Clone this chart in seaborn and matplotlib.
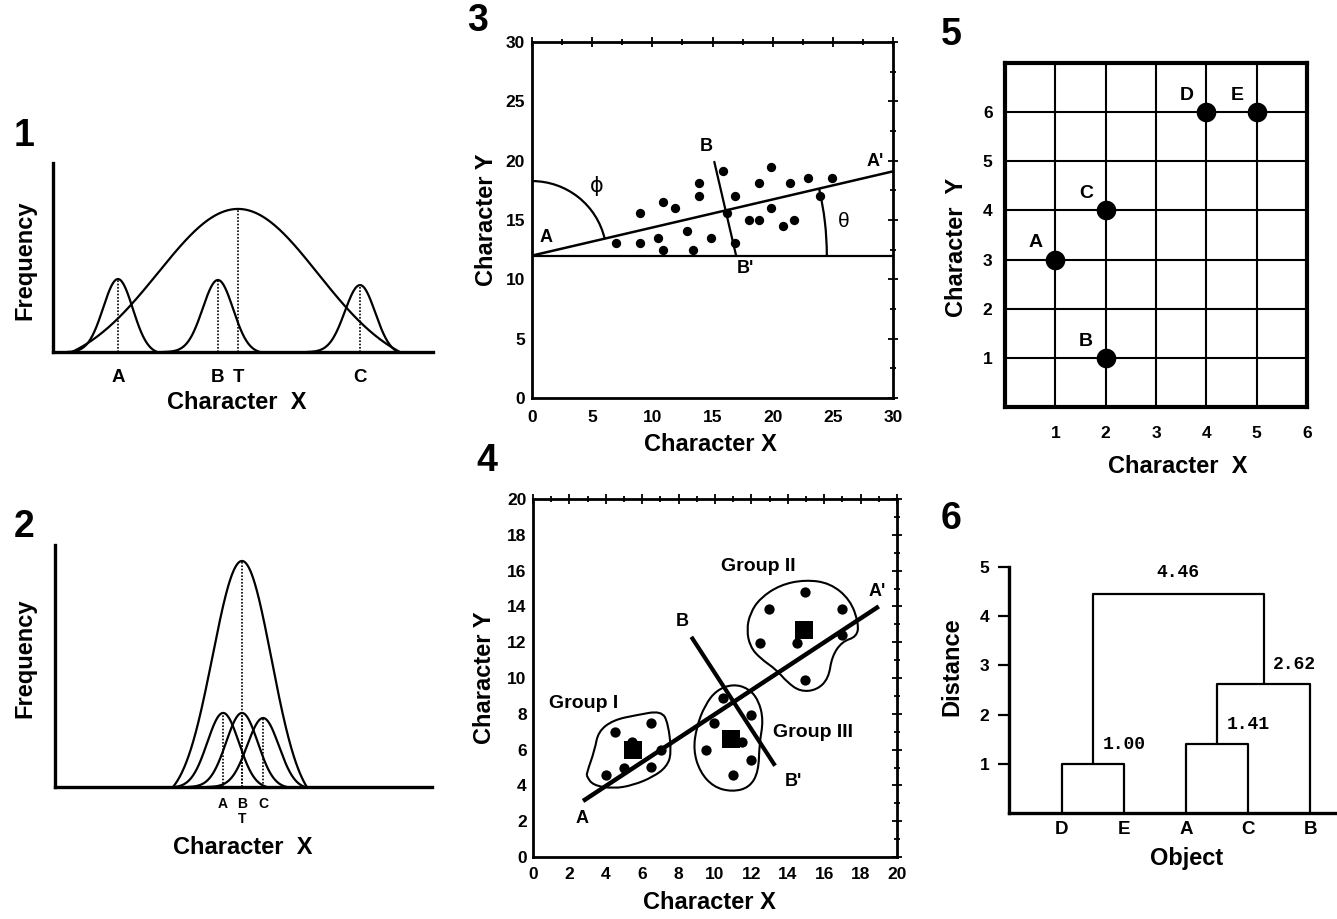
import numpy as np
import pandas as pd
import seaborn as sns
import matplotlib.pyplot as plt
from matplotlib.patches import Arc, PathPatch
from matplotlib.path import Path
from matplotlib.ticker import MultipleLocator

# ---------------- data ----------------
# panel 1: three taxa far apart along character X, T = pooled total
p1_names = ["A", "B", "C", "T"]
p1_means = [17.1, 43.4, 80.8, 48.7]
p1_sds = [3.9, 4.0, 4.0, 21.0]
p1_peaks = [0.386, 0.381, 0.354, 0.757]
p1_starts = [3.7, 28.9, 66.8, 5.0]
p1_ends = [27.4, 54.5, 90.8, 91.3]

# panel 2: three taxa overlapping
p2_names = ["A", "B", "C", "T"]
p2_means = [44.6, 49.6, 55.2, 49.6]
p2_sds = [4.2, 4.2, 4.2, 7.8]
p2_peaks = [0.306, 0.306, 0.285, 0.934]
p2_starts = [31.8, 35.3, 40.3, 31.3]
p2_ends = [56.2, 61.5, 66.3, 66.8]

# panel 3: scatter with major axis A-A' and perpendicular B-B'
p3_x = [7.0, 9.0, 9.0, 10.9, 11.9, 10.5, 10.9, 12.9, 13.4, 13.9, 13.9, 14.9, 15.9, 16.2,
        16.9, 16.9, 18.0, 18.9, 18.9, 19.9, 19.9, 20.9, 21.4, 21.8, 22.9, 23.9, 24.9]
p3_y = [13.1, 15.6, 13.1, 16.5, 16.0, 13.5, 12.5, 14.1, 12.5, 18.1, 17.0, 13.5, 19.1, 15.6,
        17.0, 13.1, 15.0, 15.0, 18.1, 19.5, 16.0, 14.5, 18.1, 15.0, 18.5, 17.0, 18.5]
p3_major_x = [0, 30]
p3_major_y = [12.0, 19.1]
p3_base_x = [0, 30]
p3_base_y = [12.0, 12.0]
p3_minor_x = [15.15, 16.95]
p3_minor_y = [19.9, 12.05]

# panel 4: three groups
g1_x = [4.0, 4.5, 5.0, 5.45, 6.5, 6.5, 7.06]
g1_y = [4.57, 7.0, 5.0, 6.4, 7.46, 5.04, 6.0]
g2_x = [12.94, 14.95, 17.0, 12.48, 14.5, 17.0, 14.95]
g2_y = [13.86, 14.83, 13.86, 11.94, 11.94, 12.4, 9.89]
g3_x = [9.5, 9.96, 10.46, 10.97, 11.47, 12.0, 12.0]
g3_y = [6.0, 7.46, 8.9, 4.57, 6.44, 7.93, 5.41]
centroid_x = [5.5, 14.9, 10.86]
centroid_y = [5.97, 12.69, 6.62]
g1_out_x = [2.94, 3.39, 3.58, 4.40, 5.69, 7.06, 7.43, 7.61, 7.34, 6.61, 5.5, 4.40, 3.30, 2.97]
g1_out_y = [4.66, 5.97, 7.0, 7.65, 7.93, 8.17, 7.46, 5.78, 5.04, 4.48, 4.01, 3.82, 4.01, 4.48]
g2_out_x = [11.93, 12.48, 13.58, 14.95, 16.33, 17.43, 17.89, 17.8, 16.97, 16.42, 16.24, 15.6,
            14.68, 13.94, 13.39, 12.48, 11.93, 11.74]
g2_out_y = [13.62, 14.46, 15.2, 15.49, 15.3, 14.37, 13.06, 12.31, 12.03, 11.19, 9.98, 9.33,
            9.24, 9.79, 10.45, 11.1, 11.75, 12.69]
g3_out_x = [11.0, 11.83, 12.39, 12.66, 12.44, 12.39, 11.89, 10.92, 9.91, 9.17, 8.81, 8.99, 9.45, 10.09]
g3_out_y = [9.66, 9.42, 8.77, 7.65, 6.34, 4.76, 3.88, 3.64, 3.92, 4.76, 5.97, 7.28, 8.49, 9.33]
p4_major_x = [2.75, 19.0]
p4_major_y = [3.13, 14.0]
p4_minor_x = [8.7, 13.3]
p4_minor_y = [12.3, 5.1]

# panel 5: five objects
p5_names = ["A", "B", "C", "D", "E"]
p5_x = [1, 2, 2, 4, 5]
p5_y = [3, 1, 4, 6, 6]

# panel 6: dendrogram
p6_leaves = ["D", "E", "A", "C", "B"]
p6_left = ["D", "A", "AC", "DE"]
p6_right = ["E", "C", "B", "ACB"]
p6_heights = [1.00, 1.41, 2.62, 4.46]

# ---------------- style ----------------
sns.set_style("white", {"axes.edgecolor": "black"})
plt.rcParams["font.family"] = ["Liberation Sans", "DejaVu Sans"]
plt.rcParams["font.weight"] = "bold"
plt.rcParams["axes.labelweight"] = "bold"
for key in ["text.color", "axes.labelcolor", "xtick.color", "ytick.color"]:
    plt.rcParams[key] = "black"

W, H = 1337, 919
fig = plt.figure(figsize=(W / 100, H / 100), dpi=100)


def px_axes(left, top, right, bottom):
    return fig.add_axes([left / W, 1 - bottom / H, (right - left) / W, (bottom - top) / H])


def bell_frame(names, means, sds, peaks, starts, ends):
    rows = []
    for n, m, s, p, a, b in zip(names, means, sds, peaks, starts, ends):
        x = np.linspace(a, b, 300)
        edge = np.where(x < m, a, b)
        g = np.exp(-0.5 * ((x - m) / s) ** 2)
        g0 = np.exp(-0.5 * ((edge - m) / s) ** 2)
        rows.append(pd.DataFrame({"x": x, "y": p * (g - g0) / (1 - g0), "curve": n}))
    return pd.concat(rows, ignore_index=True)


def blob(xs, ys):
    pts = np.column_stack([xs, ys])
    mids = (pts + np.roll(pts, -1, axis=0)) / 2
    verts = [mids[-1]]
    codes = [Path.MOVETO]
    for i in range(len(pts)):
        verts += [pts[i], mids[i]]
        codes += [Path.CURVE3, Path.CURVE3]
    return PathPatch(Path(verts, codes), fill=False, lw=1.5, edgecolor="black")


def frequency_panel(ax, names, means, sds, peaks, starts, ends, ticklabels, tsize, pad):
    df = bell_frame(names, means, sds, peaks, starts, ends)
    sns.lineplot(data=df, x="x", y="y", units="curve", estimator=None, sort=False,
                 color="black", lw=1.6, ax=ax)
    ax.vlines(means, 0, peaks, colors="black", linestyles=(0, (1, 1)), lw=1.2)
    ax.set_xlim(0, 100)
    ax.set_ylim(0, 1)
    ax.set_yticks([])
    ax.set_xticks(means[:3])
    ax.set_xticklabels(ticklabels)
    ax.tick_params(axis="x", length=0, pad=pad, labelsize=tsize)
    for s in ["top", "right"]:
        ax.spines[s].set_visible(False)
    for s in ["left", "bottom"]:
        ax.spines[s].set_linewidth(2.4)
    ax.set_xlabel("Character  X", fontsize=17, va="center")
    ax.set_ylabel("Frequency", fontsize=17, va="center")


# ---------------- panel 1 ----------------
ax1 = px_axes(53, 163, 433, 352)
frequency_panel(ax1, p1_names, p1_means, p1_sds, p1_peaks, p1_starts, p1_ends,
                ["A", "B", "C"], 13.5, 12)
ax1.set_xticks(p1_means)
ax1.set_xticklabels(p1_names)
ax1.xaxis.set_label_coords(0.484, -0.265)
ax1.yaxis.set_label_coords(-0.074, 0.487)

# ---------------- panel 2 ----------------
ax2 = px_axes(55, 545, 432, 787)
frequency_panel(ax2, p2_names, p2_means, p2_sds, p2_peaks, p2_starts, p2_ends,
                ["A", "B\nT", "C"], 10, 7)
for t in ax2.get_xticklabels():
    t.set_linespacing(1.1)
ax2.xaxis.set_label_coords(0.499, -0.252)
ax2.yaxis.set_label_coords(-0.08, 0.533)


def scatter_frame(ax, lim, major, minor, xpad, ypad):
    ax.set_xlim(0, lim)
    ax.set_ylim(0, lim)
    ax.set_xticks(np.arange(0, lim + 1, major))
    ax.set_yticks(np.arange(0, lim + 1, major))
    ax.xaxis.set_minor_locator(MultipleLocator(minor))
    ax.yaxis.set_minor_locator(MultipleLocator(minor))
    ax.tick_params(which="both", direction="inout", top=True, right=True, width=1.3,
                   labelsize=12.5)
    ax.tick_params(which="major", length=7)
    ax.tick_params(which="minor", length=4)
    ax.tick_params(axis="x", pad=xpad)
    ax.tick_params(axis="y", pad=ypad)
    for s in ax.spines.values():
        s.set_linewidth(2)
    ax.set_xlabel("Character X", fontsize=17, va="center")
    ax.set_ylabel("Character Y", fontsize=17, va="center")


# ---------------- panel 3 ----------------
ax3 = px_axes(532, 42, 893, 398)
scatter_frame(ax3, 30, 5, 2.5, 5, 1.5)
ax3.plot(p3_base_x, p3_base_y, color="black", lw=1.6)
ax3.plot(p3_major_x, p3_major_y, color="black", lw=1.8)
ax3.plot(p3_minor_x, p3_minor_y, color="black", lw=1.6)
sns.scatterplot(x=p3_x, y=p3_y, color="black", s=45, linewidth=0, ax=ax3, zorder=3)
ang = np.degrees(np.arctan2(p3_major_y[1] - p3_major_y[0], p3_major_x[1] - p3_major_x[0]))
ax3.add_patch(Arc((p3_major_x[0], p3_major_y[0]), 12.4, 12.56, theta1=ang, theta2=90,
                  lw=1.6, edgecolor="black"))
ax3.add_patch(Arc((p3_major_x[0], p3_major_y[0]), 49.0, 49.6, theta1=0, theta2=ang,
                  lw=1.6, edgecolor="black"))
for x, y, s, w in [(14.5, 21.2, "B", "bold"), (28.5, 19.9, "A'", "bold"), (1.2, 13.5, "A", "bold"),
                   (17.7, 10.9, "B'", "bold"), (5.4, 17.9, "ϕ", "normal"), (25.9, 14.9, "θ", "normal")]:
    ax3.text(x, y, s, ha="center", va="center", fontsize=13 if w == "bold" else 15,
             fontweight=w, family=["DejaVu Sans"] if s == "ϕ" else None)
ax3.xaxis.set_label_coords(0.493, -0.132)
ax3.yaxis.set_label_coords(-0.127, 0.5)

# ---------------- panel 4 ----------------
ax4 = px_axes(533, 499, 897, 857)
scatter_frame(ax4, 20, 2, 1, 4, 1)
for ox, oy in [(g1_out_x, g1_out_y), (g2_out_x, g2_out_y), (g3_out_x, g3_out_y)]:
    ax4.add_patch(blob(ox, oy))
ax4.plot(p4_major_x, p4_major_y, color="black", lw=3.2, solid_capstyle="butt")
ax4.plot(p4_minor_x, p4_minor_y, color="black", lw=3.0, solid_capstyle="butt")
sns.scatterplot(x=g1_x + g2_x + g3_x, y=g1_y + g2_y + g3_y, color="black", s=55,
                linewidth=0, ax=ax4, zorder=3)
sns.scatterplot(x=centroid_x, y=centroid_y, color="black", marker="s", s=170,
                linewidth=0, ax=ax4, zorder=4)
for x, y, s, fs in [(12.4, 16.23, "Group II", 14), (2.77, 8.58, "Group I", 14),
                    (15.41, 6.94, "Group III", 14), (8.2, 13.15, "B", 13),
                    (18.9, 14.83, "A'", 13), (14.31, 4.2, "B'", 13), (2.7, 2.15, "A", 13)]:
    ax4.text(x, y, s, ha="center", va="center", fontsize=fs)
ax4.xaxis.set_label_coords(0.486, -0.126)
ax4.yaxis.set_label_coords(-0.132, 0.5)

# ---------------- panel 5 ----------------
ax5 = px_axes(1005, 63, 1307, 407)
ax5.set_xlim(0, 6)
ax5.set_ylim(0, 7)
ax5.set_xticks(range(1, 7))
ax5.set_yticks(range(1, 7))
ax5.grid(True, color="black", lw=1.5)
ax5.set_axisbelow(True)
sns.scatterplot(x=p5_x, y=p5_y, color="black", s=200, linewidth=0, ax=ax5, zorder=3)
for n, x, y in zip(p5_names, p5_x, p5_y):
    ax5.annotate(n, (x, y), xytext=(-14, 12), textcoords="offset points",
                 ha="center", va="center", fontsize=14)
ax5.tick_params(length=0, labelsize=12.5)
ax5.tick_params(axis="x", pad=14)
ax5.tick_params(axis="y", pad=9)
for s in ax5.spines.values():
    s.set_linewidth(3)
ax5.set_xlabel("Character  X", fontsize=17, va="center")
ax5.set_ylabel("Character  Y", fontsize=17, va="center")
ax5.xaxis.set_label_coords(0.573, -0.174)
ax5.yaxis.set_label_coords(-0.159, 0.465)

# ---------------- panel 6 ----------------
ax6 = px_axes(1009, 567, 1335, 813)
pos = {n: i + 1 for i, n in enumerate(p6_leaves)}
hgt = {n: 0.0 for n in p6_leaves}
for k, (l, r, h) in enumerate(zip(p6_left, p6_right, p6_heights)):
    ax6.plot([pos[l], pos[l], pos[r], pos[r]], [hgt[l], h, h, hgt[r]], color="black", lw=1.6)
    node = l + r
    pos[node] = (pos[l] + pos[r]) / 2
    hgt[node] = h
    last = k == len(p6_heights) - 1
    ax6.annotate(f"{h:.2f}", (pos[node], h),
                 xytext=(0, 9) if last else (7, 8), textcoords="offset points",
                 ha="center" if last else "left", va="bottom", fontsize=13,
                 family=["Liberation Mono"], fontweight="bold")
ax6.set_xlim(0.15, 5.4)
ax6.set_ylim(0, 5)
ax6.set_yticks(range(1, 6))
ax6.set_xticks(range(1, len(p6_leaves) + 1))
ax6.set_xticklabels(p6_leaves)
ax6.tick_params(axis="y", direction="out", length=8, width=1.6, pad=6, labelsize=12.5, left=True)
ax6.tick_params(axis="x", length=0, pad=6, labelsize=13.5)
for s in ["top", "right"]:
    ax6.spines[s].set_visible(False)
for s in ["left", "bottom"]:
    ax6.spines[s].set_linewidth(2.4)
ax6.set_xlabel("Object", fontsize=17, va="center")
ax6.set_ylabel("Distance", fontsize=17, va="center")
ax6.xaxis.set_label_coords(0.546, -0.183)
ax6.yaxis.set_label_coords(-0.175, 0.593)

# panel numbers
for s, x, y in [("1", 24, 136), ("2", 24, 527), ("3", 478, 21), ("4", 487, 461),
                ("5", 951, 35), ("6", 951, 519)]:
    fig.text(x / W, 1 - y / H, s, ha="center", va="center", fontsize=27, fontweight="bold")

fig.savefig("out.png", dpi=100)
